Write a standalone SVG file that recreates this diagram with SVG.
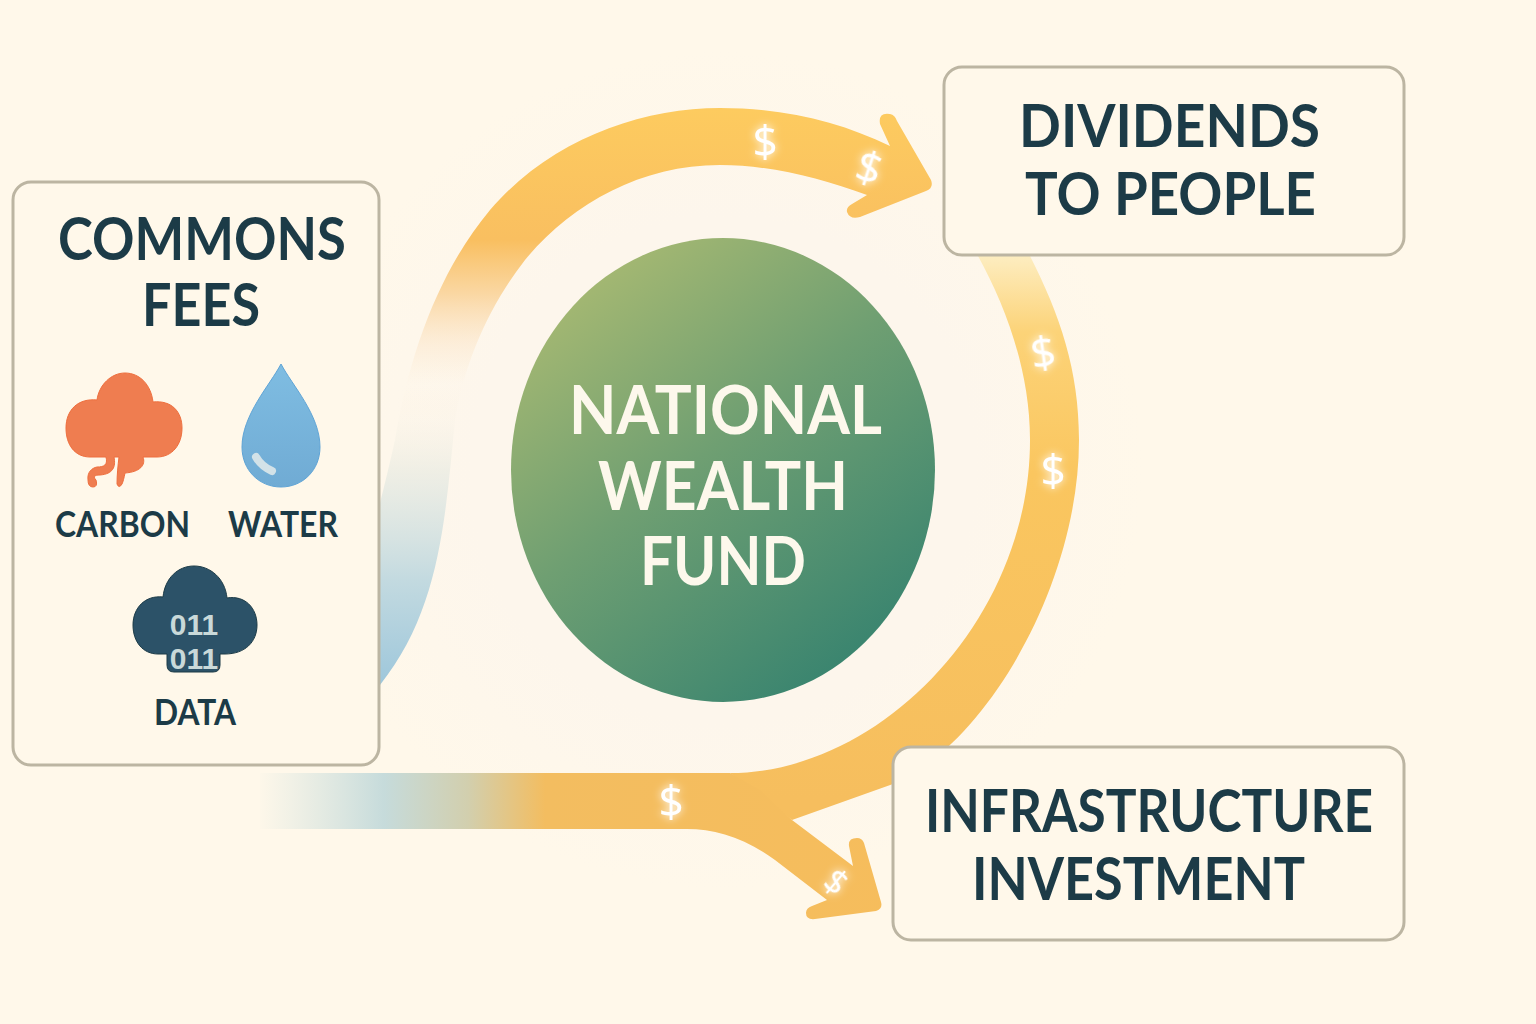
<svg xmlns="http://www.w3.org/2000/svg" width="1536" height="1024" viewBox="0 0 1536 1024">
<defs>
<style>
.box{fill:#fff8ea;stroke:#bcb5a2;stroke-width:3}
.t{font-family:"Lato","Noto Sans",sans-serif;font-weight:700;fill:#1c3b47;text-anchor:middle}
.big{font-size:60px}
.small{font-size:36px}
.f{font-family:"Lato","Noto Sans",sans-serif;font-weight:700;fill:#fdf8ec;text-anchor:middle;font-size:67px}
.d{font-family:"Noto Sans",sans-serif;fill:#fff;text-anchor:middle;font-size:44px;filter:url(#glow)}
.bin{font-family:"Liberation Sans",sans-serif;font-weight:700;font-size:30px;fill:#c9d9d9;text-anchor:middle}
</style>
<radialGradient id="bg" gradientUnits="userSpaceOnUse" cx="723" cy="470" r="420">
<stop offset="0.6" stop-color="#fdf6ec"/><stop offset="1" stop-color="#fff8ea"/></radialGradient>
<linearGradient id="fund" gradientUnits="userSpaceOnUse" x1="570" y1="270" x2="880" y2="670">
<stop offset="0" stop-color="#a9ba72"/><stop offset="0.45" stop-color="#6f9f72"/><stop offset="1" stop-color="#35826f"/></linearGradient>
<linearGradient id="left" gradientUnits="userSpaceOnUse" x1="0" y1="690" x2="0" y2="108">
<stop offset="0" stop-color="#9cc6db"/><stop offset="0.19" stop-color="#c3dae0"/><stop offset="0.378" stop-color="#e9ebe2" stop-opacity="0.7"/><stop offset="0.464" stop-color="#f3efe3" stop-opacity="0.15"/><stop offset="0.524" stop-color="#fbe8cc" stop-opacity="0"/><stop offset="0.593" stop-color="#fbe3c4" stop-opacity="0.45"/><stop offset="0.679" stop-color="#fad6a0" stop-opacity="0.95"/><stop offset="0.773" stop-color="#f9bf60"/><stop offset="1" stop-color="#fdcb5f"/></linearGradient>
<linearGradient id="right" gradientUnits="userSpaceOnUse" x1="0" y1="256" x2="0" y2="800">
<stop offset="0" stop-color="#fdedc0"/><stop offset="0.14" stop-color="#fcd378"/><stop offset="0.4" stop-color="#fac65f"/><stop offset="1" stop-color="#f6be5e"/></linearGradient>
<linearGradient id="low" gradientUnits="userSpaceOnUse" x1="255" y1="0" x2="900" y2="0">
<stop offset="0" stop-color="#cfe0dc" stop-opacity="0"/><stop offset="0.2" stop-color="#c6dbdb"/><stop offset="0.33" stop-color="#d2cfae"/><stop offset="0.45" stop-color="#f3bd60"/><stop offset="1" stop-color="#f6bd5c"/></linearGradient>
<linearGradient id="drop" x1="0" y1="0" x2="0" y2="1"><stop offset="0" stop-color="#7fbde2"/><stop offset="1" stop-color="#70abd4"/></linearGradient>
<filter id="glow" x="-60%" y="-60%" width="220%" height="220%"><feGaussianBlur stdDeviation="4" result="b"/><feMerge><feMergeNode in="b"/><feMergeNode in="SourceGraphic"/></feMerge></filter>
</defs>
<rect width="1536" height="1024" fill="#fff8ea"/>
<circle cx="723" cy="470" r="420" fill="url(#bg)"/>
<g id="connectors" stroke-linejoin="round">
<path id="flow-commons-dividends" fill="url(#left)" d="M300,720C345,640 375,530 395,440C410,350 440,270 490,210C550,140 640,108 720,108C785,108 840,122 890,146L880,124Q878,112 890,114Q895,115 897,121L931,180Q934,188 926,191L860,217Q850,220 847,212Q846,207 852,204L867,195C820,178 770,165 720,165C640,165 570,205 525,260C490,305 465,360 455,420C445,520 440,610 380,685Z"/>
<path id="flow-dividends-infrastructure" fill="url(#right)" d="M978,256H1030C1060,315 1079,370 1079,440C1079,585 985,745 893,784L792,820L730,773C880,773 1030,620 1030,440C1030,370 1005,305 978,256Z"/>
<path id="flow-infrastructure" fill="url(#low)" d="M260,773H730L760,790L792,820L853,866L849,846Q848,838 857,838Q862,838 864,843L881,902Q883,909 876,911L815,919Q806,920 806,913Q806,908 812,906L827,900L775,860C745,838 715,829 687,829H260Z"/>
</g>
<g id="fund-node"><ellipse cx="723" cy="470" rx="212" ry="232" fill="url(#fund)"/>
<text class="f" x="725.5" y="434" textLength="313" lengthAdjust="spacingAndGlyphs">NATIONAL</text><text class="f" x="723" y="510" textLength="250" lengthAdjust="spacingAndGlyphs">WEALTH</text><text class="f" x="723" y="585" textLength="166" lengthAdjust="spacingAndGlyphs">FUND</text></g>
<g id="commons-node"><rect class="box" x="13" y="182" width="366" height="583" rx="18"/>
<text class="t big" x="202" y="260" textLength="288" lengthAdjust="spacingAndGlyphs">COMMONS</text><text class="t big" x="201" y="326" textLength="118" lengthAdjust="spacingAndGlyphs">FEES</text>
<path id="carbon-icon" fill="#ef7d50" stroke="#ee6f3e" d="M97,400C99,385 111,373 125,373C140,373 151,385 153,402C172,400 182,412 182,428C182,445 172,457 157,457H143C146,465 140,472 125,473C124,478 123,482 122,484Q119,489 117,484C117,475 118,465 119,457H114C116,467 113,474 100,475C94,475 93,477 96,480Q98,487 93,487Q88,487 88,480C87,472 92,468 97,467C104,467 108,465 106,457H90C75,457 66,445 66,428C66,410 78,398 97,400Z"/>
<text class="t small" x="122.5" y="537" textLength="135" lengthAdjust="spacingAndGlyphs">CARBON</text>
<path id="water-icon" fill="url(#drop)" stroke="#5fa4d6" d="M281,364C292,385 320,415 320,447C320,470 303,487 281,487C259,487 242,470 242,447C242,415 270,385 281,364Z"/>
<path fill="none" stroke="#d3e2e8" stroke-width="8" stroke-linecap="round" d="M256,457C260,464 265,468 272,471"/>
<text class="t small" x="283" y="537" textLength="110" lengthAdjust="spacingAndGlyphs">WATER</text>
<path id="data-icon" fill="#2c5268" stroke="#1c3b47" d="M163,597C165,578 178,566 194,566C210,566 225,578 227,598C245,595 257,608 257,625C257,642 245,654 225,654H220V665Q220,672 213,672H174Q167,672 167,665V654H158C143,654 133,642 133,625C133,608 145,595 163,597Z"/>
<text class="bin" x="194" y="635">011</text><text class="bin" x="194" y="669">011</text>
<text class="t small" x="195" y="725" textLength="82" lengthAdjust="spacingAndGlyphs">DATA</text></g>
<g id="dividends-node"><rect class="box" x="944" y="67" width="460" height="188" rx="18"/>
<text class="t big" x="1169.5" y="147" textLength="301" lengthAdjust="spacingAndGlyphs">DIVIDENDS</text><text class="t big" x="1170.5" y="215" textLength="291" lengthAdjust="spacingAndGlyphs">TO PEOPLE</text></g>
<g id="infrastructure-node"><rect class="box" x="893" y="747" width="511" height="193" rx="18"/>
<text class="t big" x="1149" y="832" textLength="448" lengthAdjust="spacingAndGlyphs">INFRASTRUCTURE</text><text class="t big" x="1138.5" y="900" textLength="333" lengthAdjust="spacingAndGlyphs">INVESTMENT</text></g>
<g id="dollars">
<text class="d" x="765" y="157">$</text>
<text class="d" transform="rotate(18 869 168)" x="869" y="183">$</text>
<text class="d" transform="rotate(-8 1043 353)" x="1043" y="368">$</text>
<text class="d" x="1053" y="486">$</text>
<text class="d" x="671" y="817">$</text>
<text class="d" style="font-size:34px" transform="rotate(40 836 882)" x="836" y="894">$</text>
</g>
</svg>
